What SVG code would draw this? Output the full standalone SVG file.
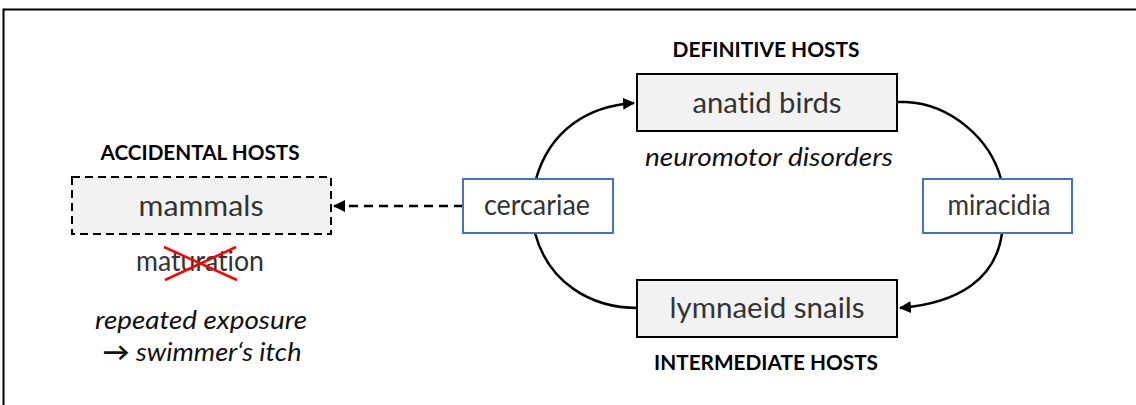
<svg xmlns="http://www.w3.org/2000/svg" width="1136" height="405" viewBox="0 0 1136 405">
  <defs>
    <marker id="arrow" viewBox="0 0 12 12" refX="11" refY="6" markerWidth="12" markerHeight="12" markerUnits="userSpaceOnUse" orient="auto">
      <path d="M0,0 L12,6 L0,12 Z" fill="#000"/>
    </marker>
    <style>
      text { font-variant-ligatures: none; }
      .host { fill: #F2F2F2; stroke: #000; stroke-width: 2; }
      .stage { fill: #FFF; stroke: #4472C4; stroke-width: 2; }
      .lbl { font-family: Lato, "Open Sans", "Liberation Sans", sans-serif; font-size: 28px; font-weight: 400; fill: #333; text-anchor: middle; }
      .hdr { font-family: Lato, "Open Sans", "Liberation Sans", sans-serif; font-size: 20px; font-weight: bold; fill: #000; text-anchor: middle; }
      .note { font-family: Lato, "Open Sans", "Liberation Sans", sans-serif; font-size: 25px; font-weight: 400; font-style: italic; fill: #111; text-anchor: middle; }
      .conn { fill: none; stroke: #000; stroke-width: 2.5; }
    </style>
  </defs>
  <rect x="0" y="0" width="1136" height="405" fill="#FFF"/>
  <rect x="3.5" y="9.5" width="1200" height="500" fill="none" stroke="#000" stroke-width="2"/>

  <g id="connectors">
    <path class="conn" d="M536,179 C550,130 588,106 634,103" marker-end="url(#arrow)"/>
    <path class="conn" d="M897,102 L906,102 C950,104 990,138 1001,179"/>
    <path class="conn" d="M1002,233 C996,278 960,303 900,308" marker-end="url(#arrow)"/>
    <path class="conn" d="M535,233 C548,282 590,308 638,308"/>
    <path class="conn" d="M463,206 L334,206" stroke-dasharray="9,6" marker-end="url(#arrow)"/>
  </g>

  <g id="definitive-hosts">
    <text class="hdr" x="766" y="57" textLength="187" lengthAdjust="spacingAndGlyphs">DEFINITIVE HOSTS</text>
    <rect class="host" x="637" y="74" width="260" height="57"/>
    <text class="lbl" x="767" y="113" textLength="149" lengthAdjust="spacingAndGlyphs">anatid birds</text>
    <text class="note" x="769" y="166" textLength="248" lengthAdjust="spacingAndGlyphs">neuromotor disorders</text>
  </g>

  <g id="cercariae">
    <rect class="stage" x="463" y="179" width="150" height="54"/>
    <text class="lbl" x="537" y="215" font-size="25" textLength="106" lengthAdjust="spacingAndGlyphs">cercariae</text>
  </g>

  <g id="miracidia">
    <rect class="stage" x="923" y="179" width="149" height="54"/>
    <text class="lbl" x="999" y="215" font-size="25" textLength="103" lengthAdjust="spacingAndGlyphs">miracidia</text>
  </g>

  <g id="intermediate-hosts">
    <rect class="host" x="637" y="280" width="260" height="57"/>
    <text class="lbl" x="767" y="318" textLength="195" lengthAdjust="spacingAndGlyphs">lymnaeid snails</text>
    <text class="hdr" x="766" y="370" textLength="224" lengthAdjust="spacingAndGlyphs">INTERMEDIATE HOSTS</text>
  </g>

  <g id="accidental-hosts">
    <text class="hdr" x="200" y="160" textLength="199" lengthAdjust="spacingAndGlyphs">ACCIDENTAL HOSTS</text>
    <rect class="host" x="72" y="177" width="259" height="57" stroke-dasharray="8,5"/>
    <text class="lbl" x="201" y="216" textLength="125" lengthAdjust="spacingAndGlyphs">mammals</text>
    <text class="lbl" x="200" y="271" font-size="27" fill="#000" textLength="128" lengthAdjust="spacingAndGlyphs">maturation</text>
    <path d="M164,247 L237,280 M165,280 L236,247" stroke="#FF0000" stroke-width="2.5" fill="none"/>
    <text class="note" x="201" y="329" textLength="212" lengthAdjust="spacingAndGlyphs">repeated exposure</text>
    <text class="note" x="202" y="361" textLength="199" lengthAdjust="spacingAndGlyphs"><tspan font-style="normal" font-weight="bold">→</tspan> swimmer‘s itch</text>
  </g>
</svg>
